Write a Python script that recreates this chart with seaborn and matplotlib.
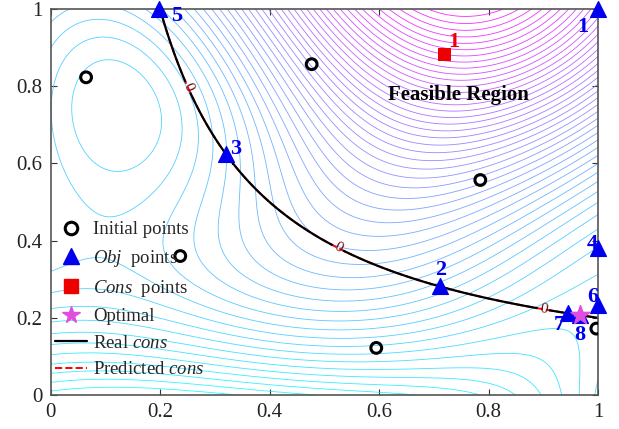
import numpy as np
import pandas as pd
import matplotlib
matplotlib.use("Agg")
import matplotlib.pyplot as plt
import seaborn as sns
from matplotlib.lines import Line2D

# ---------------- data ----------------
init_x = [0.065, 0.477, 0.785, 0.237, 0.595, 0.997]
init_y = [0.823, 0.857, 0.557, 0.360, 0.122, 0.172]

obj_x = [1.000, 0.711, 0.320, 1.000, 0.198, 1.000, 0.945, 0.967]
obj_y = [1.000, 0.283, 0.624, 0.381, 1.000, 0.233, 0.213, 0.207]
obj_labels = ["1", "2", "3", "4", "5", "6", "7", "8"]

cons_x = [0.719]
cons_y = [0.883]
cons_labels = ["1"]

opt_x = [0.967]
opt_y = [0.207]

cons_level = [0.0]
cons_limit = 0.2

tick_vals = [0, 0.2, 0.4, 0.6, 0.8, 1]
tick_text = ["0", "0.2", "0.4", "0.6", "0.8", "1"]

# ---------------- style ----------------
sns.set_theme(style="white")
plt.rcParams["font.family"] = ["Liberation Serif", "DejaVu Serif"]
plt.rcParams["mathtext.fontset"] = "custom"
plt.rcParams["mathtext.rm"] = "Liberation Serif"
plt.rcParams["mathtext.it"] = "Liberation Serif:italic"

fig = plt.figure(figsize=(6.19, 4.29), dpi=100)
ax = fig.add_axes([50.5 / 619, 34 / 429, 547.5 / 619, 386 / 429])

# ---------------- surrogate field (kriging with linear trend of the sampled points) ----------------
sx = np.array(init_x + obj_x[:-1] + cons_x)
sy = np.array(init_y + obj_y[:-1] + cons_y)
X1 = 15 * sx - 5
X2 = 15 * sy
vals = (X2 - 5.1 / (4 * np.pi ** 2) * X1 ** 2 + 5 / np.pi * X1 - 6) ** 2 \
    + 10 * (1 - 1 / (8 * np.pi)) * np.cos(X1) + 10
theta = np.array([2.0, 2.0])
P = np.column_stack([sx, sy])


def trend(p):
    return np.column_stack([np.ones(len(p)), p[:, 0], p[:, 1]])


D = (P[:, None, :] - P[None, :, :]) ** 2
R = np.exp(-(D * theta).sum(-1)) + 1e-6 * np.eye(len(sx))
Ri = np.linalg.inv(R)
F = trend(P)
beta = np.linalg.solve(F.T @ Ri @ F, F.T @ Ri @ vals)
w = Ri @ (vals - F @ beta)

g = np.linspace(0, 1, 241)
GX, GY = np.meshgrid(g, g)
G = np.column_stack([GX.ravel(), GY.ravel()])
Dg = (G[:, None, :] - P[None, :, :]) ** 2
Z = (trend(G) @ beta + np.exp(-(Dg * theta).sum(-1)) @ w).reshape(GX.shape)

levels = np.linspace(Z.min(), Z.max(), 50)
ax.contour(GX, GY, Z, levels=levels, cmap="cool", linewidths=0.6, alpha=0.85)

# ---------------- constraint ----------------
C = GX * GY - cons_limit
ax.contour(GX, GY, C, levels=cons_level, colors="red", linestyles="--", linewidths=1.4)
cs = ax.contour(GX, GY, C, levels=cons_level, colors="black", linewidths=1.6)
ax.clabel(cs, fmt={0.0: "0"}, inline=True, inline_spacing=2, fontsize=11,
          colors="#6b1010", manual=[(0.251, 0.797), (0.525, 0.381), (0.90, 0.222)])

# ---------------- points ----------------
df_init = pd.DataFrame({"x": init_x, "y": init_y})
df_obj = pd.DataFrame({"x": obj_x, "y": obj_y, "lab": obj_labels})
df_cons = pd.DataFrame({"x": cons_x, "y": cons_y})
df_opt = pd.DataFrame({"x": opt_x, "y": opt_y})

sns.scatterplot(data=df_init, x="x", y="y", ax=ax, marker="o", s=60,
                facecolor="none", edgecolor="black", linewidth=2.2, zorder=5, legend=False)
sns.scatterplot(data=df_obj, x="x", y="y", ax=ax, marker="^", s=130,
                color="#0000ee", edgecolor="#0000ee", zorder=6, legend=False, clip_on=False)
sns.scatterplot(data=df_cons, x="x", y="y", ax=ax, marker="s", s=80,
                color="#ee0000", edgecolor="#ee0000", zorder=6, legend=False)
sns.scatterplot(data=df_opt, x="x", y="y", ax=ax, marker="*", s=200,
                color="#e04ee0", edgecolor="#e04ee0", zorder=7, legend=False)

offs = [(-11, -13), (1, 11), (7, 4), (-4, 3), (13, -5), (-4, 6), (-6, -9), (0, -14)]
for xx, yy, lab, off in zip(obj_x, obj_y, obj_labels, offs):
    ax.annotate(lab, (xx, yy), xytext=off, textcoords="offset points", ha="center",
                va="center", color="#0000ee", fontsize=16, fontweight="bold", zorder=8,
                annotation_clip=False)
for xx, yy, lab in zip(cons_x, cons_y, cons_labels):
    ax.annotate(lab, (xx, yy), xytext=(7, 9), textcoords="offset points", ha="center",
                va="center", color="#ee0000", fontsize=16, fontweight="bold", zorder=8)

ax.text(0.745, 0.777, "Feasible Region", ha="center", va="center", fontsize=15,
        fontweight="bold", color="black", zorder=8)

# ---------------- axes ----------------
ax.set_xlim(0, 1)
ax.set_ylim(0, 1)
ax.set_xticks(tick_vals)
ax.set_xticklabels(tick_text)
ax.set_yticks(tick_vals)
ax.set_yticklabels(tick_text)
ax.set_xlabel("")
ax.set_ylabel("")
ax.tick_params(direction="in", length=4, width=0.8, colors="#333333", labelsize=15,
               labelcolor="#222222", top=True, right=True, bottom=True, left=True, pad=6)
for sp in ax.spines.values():
    sp.set_color("#555555")
    sp.set_linewidth(1.2)
    sp.set_visible(True)

handles = [
    Line2D([], [], ls="none", marker="o", ms=9, mfc="none", mec="black", mew=2.2),
    Line2D([], [], ls="none", marker="^", ms=12, color="#0000ee"),
    Line2D([], [], ls="none", marker="s", ms=10, color="#ee0000"),
    Line2D([], [], ls="none", marker="*", ms=13, color="#e04ee0"),
    Line2D([], [], color="black", lw=1.6),
    Line2D([], [], color="red", lw=1.4, ls="--"),
]
labels = ["Initial points", r"$\mathit{Obj}$  points", r"$\mathit{Cons}$  points",
          "Optimal", r"Real $\mathit{cons}$", r"Predicted $\mathit{cons}$"]
leg = ax.legend(handles, labels, loc="upper left", bbox_to_anchor=(-0.005, 0.47),
                frameon=False, fontsize=13.5, handlelength=1.7, handletextpad=0.3,
                labelspacing=0.5, borderaxespad=0)
leg.set_zorder(9)

fig.savefig("out.png", dpi=100)
